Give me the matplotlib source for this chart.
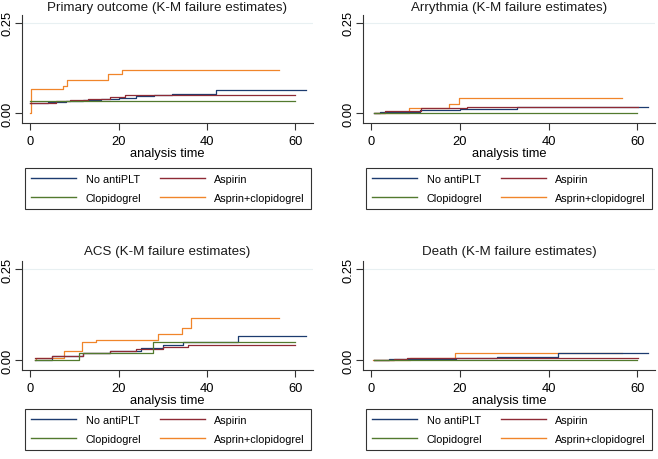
import matplotlib
matplotlib.use("Agg")
import matplotlib.pyplot as plt
from matplotlib.lines import Line2D

plt.rcParams['font.family'] = ['Liberation Sans', 'DejaVu Sans']

groups = ["No antiPLT", "Aspirin", "Clopidogrel", "Asprin+clopidogrel"]
colors = ["#1c3b6f", "#8e2a35", "#527a2e", "#f0852a"]

titles = ["Primary outcome (K-M failure estimates)",
          "Arrythmia (K-M failure estimates)",
          "ACS (K-M failure estimates)",
          "Death (K-M failure estimates)"]

# ---- Primary outcome ----
p1_noanti_t = [0, 4, 8, 12, 16, 20, 24, 28, 32, 42, 62.4]
p1_noanti_y = [0.028, 0.030, 0.034, 0.037, 0.040, 0.043, 0.046, 0.049, 0.053, 0.064, 0.064]
p1_aspirin_t = [0, 5.7, 9, 13, 18, 21.5, 60]
p1_aspirin_y = [0.029, 0.034, 0.037, 0.040, 0.044, 0.050, 0.050]
p1_clopi_t = [0, 60]
p1_clopi_y = [0.033, 0.033]
p1_combo_t = [0, 0.1, 7.3, 8.4, 17.6, 20.7, 56.4]
p1_combo_y = [0, 0.067, 0.074, 0.093, 0.108, 0.120, 0.120]

# ---- Arrythmia ----
p2_noanti_t = [0.5, 2, 11, 20, 32.8, 62.4]
p2_noanti_y = [0, 0.004, 0.008, 0.012, 0.016, 0.016]
p2_aspirin_t = [0.5, 3, 11.3, 21.5, 60.2]
p2_aspirin_y = [0, 0.007, 0.014, 0.0175, 0.0175]
p2_clopi_t = [0.5, 60]
p2_clopi_y = [0, 0]
p2_combo_t = [0.7, 8.4, 17.6, 19.8, 56.6]
p2_combo_y = [0, 0.014, 0.025, 0.041, 0.041]

# ---- ACS ----
p3_noanti_t = [1, 5, 12, 18, 25, 30, 34.6, 47.1, 62.4]
p3_noanti_y = [0, 0.010, 0.018, 0.025, 0.033, 0.040, 0.049, 0.067, 0.067]
p3_aspirin_t = [1, 5, 12, 18, 24, 30, 35.7, 60]
p3_aspirin_y = [0.005, 0.010, 0.018, 0.025, 0.030, 0.035, 0.041, 0.041]
p3_clopi_t = [1, 10.9, 27.8, 60]
p3_clopi_y = [0, 0.019, 0.049, 0.049]
p3_combo_t = [1.1, 1.2, 7.5, 11.8, 14.9, 29, 34.3, 36.4, 56.4]
p3_combo_y = [0, 0.005, 0.024, 0.049, 0.056, 0.071, 0.087, 0.115, 0.115]

# ---- Death ----
p4_noanti_t = [0.5, 4, 19.1, 28.4, 42.1, 62.4]
p4_noanti_y = [0, 0.002, 0.005, 0.009, 0.018, 0.018]
p4_aspirin_t = [0.5, 5, 8, 60.2]
p4_aspirin_y = [0, 0.002, 0.005, 0.005]
p4_clopi_t = [0.5, 60]
p4_clopi_y = [0, 0]
p4_combo_t = [0.3, 8.6, 18.9, 56.6]
p4_combo_y = [0, 0.005, 0.019, 0.019]

panels = [
    [(p1_noanti_t, p1_noanti_y), (p1_aspirin_t, p1_aspirin_y), (p1_clopi_t, p1_clopi_y), (p1_combo_t, p1_combo_y)],
    [(p2_noanti_t, p2_noanti_y), (p2_aspirin_t, p2_aspirin_y), (p2_clopi_t, p2_clopi_y), (p2_combo_t, p2_combo_y)],
    [(p3_noanti_t, p3_noanti_y), (p3_aspirin_t, p3_aspirin_y), (p3_clopi_t, p3_clopi_y), (p3_combo_t, p3_combo_y)],
    [(p4_noanti_t, p4_noanti_y), (p4_aspirin_t, p4_aspirin_y), (p4_clopi_t, p4_clopi_y), (p4_combo_t, p4_combo_y)],
]

xticks = [0, 20, 40, 60]
yticks = [0.0, 0.25]
yticklabels = ["0.00", "0.25"]

W, H = 658, 460
fig = plt.figure(figsize=(W / 100, H / 100), dpi=100)

# pixel boxes: (left, top, right, bottom)
ax_boxes = [(22, 16, 313, 124), (363, 16, 655, 124), (22, 262, 313, 371), (363, 262, 655, 371)]
leg_boxes = [(27, 167, 309, 212), (368, 167, 650, 212), (27, 408, 309, 453), (368, 408, 650, 453)]
title_y = [8, 8, 252, 252]

for i in range(4):
    l, t, r, b = ax_boxes[i]
    ax = fig.add_axes([l / W, 1 - b / H, (r - l) / W, (b - t) / H])
    for g in range(4):
        tt, yy = panels[i][g]
        ax.step(tt, yy, where='post', color=colors[g], lw=0.9, zorder=3 if g != 3 else 2)
    ax.set_xlim(-1.9, 64.0)
    ax.set_ylim(-0.0275, 0.272)
    ax.axhline(0.25, color="#e8f0f2", lw=0.8, zorder=1)
    for s in ['top', 'right']:
        ax.spines[s].set_visible(False)
    for s in ['left', 'bottom']:
        ax.spines[s].set_linewidth(0.8)
        ax.spines[s].set_color("#333333")
    ax.set_xticks(xticks)
    ax.set_xticklabels([str(x) for x in xticks], fontsize=9.3)
    ax.set_yticks(yticks)
    ax.set_yticklabels(yticklabels, fontsize=9.3, rotation=90, va='center')
    ax.tick_params(axis='both', length=5, width=0.8, color="#333333")
    ax.tick_params(axis='x', pad=3.5)
    ax.tick_params(axis='y', pad=1)
    ax.set_xlabel("analysis time", fontsize=9.3, labelpad=0.5)
    cx = (l + r) / 2
    fig.text(cx / W, 1 - title_y[i] / H, titles[i], ha='center', va='center', fontsize=9.6, color="#1a1a1a")

    lb = leg_boxes[i]
    handles = [Line2D([], [], color=colors[k], lw=1.0) for k in (0, 2, 1, 3)]
    labels = [groups[k] for k in (0, 2, 1, 3)]
    leg = fig.legend(handles, labels, loc='center',
                     bbox_to_anchor=((lb[0] + lb[2]) / 2 / W, 1 - (lb[1] + lb[3]) / 2 / H),
                     ncol=2, fontsize=7.8, frameon=True, fancybox=False,
                     edgecolor='black', handlelength=4.15, handletextpad=0.9,
                     columnspacing=1.7, borderpad=0.55, labelspacing=0.85,
                     borderaxespad=0)
    leg.get_frame().set_linewidth(0.8)

fig.savefig("out.png", dpi=100, facecolor='white')
